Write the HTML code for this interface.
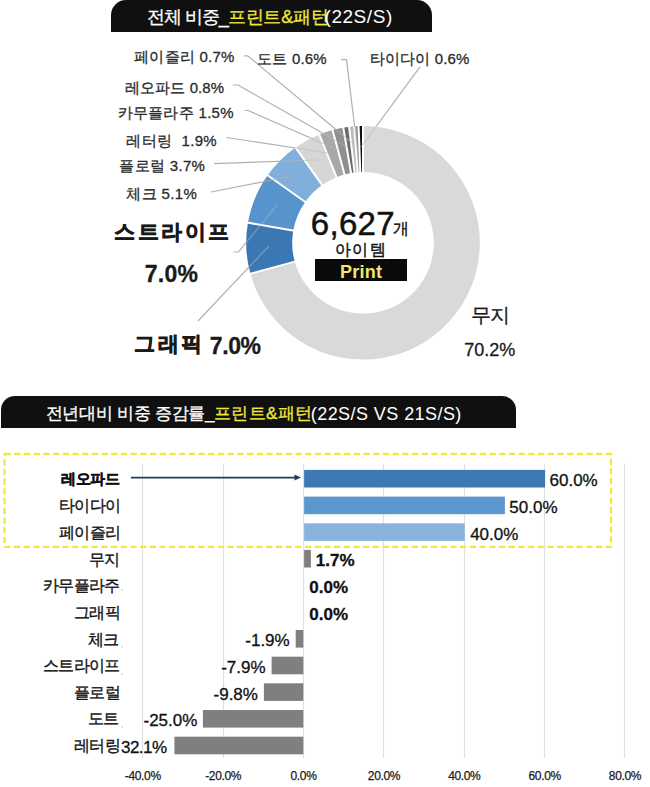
<!DOCTYPE html>
<html lang="ko"><head><meta charset="utf-8">
<style>
*{margin:0;padding:0;box-sizing:border-box}
html,body{width:650px;height:787px;background:#fff;overflow:hidden}
body{position:relative;font-family:"Liberation Sans",sans-serif;color:#262626}
.tx{position:absolute;white-space:nowrap;line-height:1.25}
.bx{position:absolute}
svg{position:absolute;left:0;top:0}
</style></head><body>
<div class="bx" style="left:110.8px;top:-0.5px;width:321.6px;height:32.2px;background:#101010;border-radius:15px 15px 0 0"></div>
<div class="bx" style="left:0.6px;top:396px;width:515.2px;height:31.7px;background:#101010;border-radius:14px 14px 0 0"></div>
<svg width="650" height="787" viewBox="0 0 650 787">
<g><path d="M363.00,126.00A116.8,116.8 0 1 1 250.39,273.82L294.74,261.60A70.8,70.8 0 1 0 363.00,172.00Z" fill="#d9d9d9"/><path d="M250.39,273.82A116.8,116.8 0 0 1 247.94,222.72L293.25,230.63A70.8,70.8 0 0 0 294.74,261.60Z" fill="#3b77b3"/><path d="M247.94,222.72A116.8,116.8 0 0 1 267.68,175.31L305.22,201.89A70.8,70.8 0 0 0 293.25,230.63Z" fill="#5793cc"/><path d="M267.68,175.31A116.8,116.8 0 0 1 295.54,147.45L322.11,185.00A70.8,70.8 0 0 0 305.22,201.89Z" fill="#80afdb"/><path d="M295.54,147.45A116.8,116.8 0 0 1 319.32,134.47L336.52,177.14A70.8,70.8 0 0 0 322.11,185.00Z" fill="#d6d6d6"/><path d="M319.32,134.47A116.8,116.8 0 0 1 332.53,130.04L344.53,174.45A70.8,70.8 0 0 0 336.52,177.14Z" fill="#a8a8a8"/><path d="M332.53,130.04A116.8,116.8 0 0 1 343.28,127.68L351.05,173.02A70.8,70.8 0 0 0 344.53,174.45Z" fill="#8f8f8f"/><path d="M343.28,127.68A116.8,116.8 0 0 1 349.09,126.83L354.57,172.50A70.8,70.8 0 0 0 351.05,173.02Z" fill="#6b6b6b"/><path d="M349.09,126.83A116.8,116.8 0 0 1 354.20,126.33L357.67,172.20A70.8,70.8 0 0 0 354.57,172.50Z" fill="#bcbcbc"/><path d="M354.20,126.33A116.8,116.8 0 0 1 358.60,126.08L360.33,172.05A70.8,70.8 0 0 0 357.67,172.20Z" fill="#979797"/><path d="M358.60,126.08A116.8,116.8 0 0 1 363.00,126.00L363.00,172.00A70.8,70.8 0 0 0 360.33,172.05Z" fill="#111111"/></g>
<g stroke="#fff" stroke-width="2"><line x1="295.71" y1="261.34" x2="249.43" y2="274.08"/><line x1="294.24" y1="230.80" x2="246.95" y2="222.55"/><line x1="306.03" y1="202.47" x2="266.86" y2="174.73"/><line x1="322.69" y1="185.82" x2="294.96" y2="146.64"/><line x1="336.90" y1="178.06" x2="318.95" y2="133.55"/><line x1="344.79" y1="175.42" x2="332.27" y2="129.08"/><line x1="351.22" y1="174.00" x2="343.11" y2="126.69"/><line x1="354.69" y1="173.50" x2="348.97" y2="125.84"/><line x1="357.74" y1="173.20" x2="354.13" y2="125.33"/><line x1="360.37" y1="173.05" x2="358.56" y2="125.08"/><line x1="363.00" y1="173.00" x2="363.00" y2="125.00"/></g>
<defs><mask id="mo"><rect width="650" height="400" fill="#fff"/><circle cx="363.0" cy="242.8" r="116.8" fill="#000"/></mask><clipPath id="ci"><circle cx="363.0" cy="242.8" r="116.8"/></clipPath></defs>
<g fill="none" stroke="#b0b0b0" stroke-width="1.2" mask="url(#mo)"><polyline points="244.2,55.8 247.8,55.8 352.0,143.0"/><polyline points="341.0,59.6 346.5,59.6 357.5,150.0"/><polyline points="420.0,66.8 361.0,147.0"/><polyline points="233.0,85.0 238.0,85.0 347.0,147.0"/><polyline points="244.6,110.5 248.0,110.5 338.0,150.0"/><polyline points="226.5,137.5 328.0,153.0"/><polyline points="214.0,163.6 318.0,160.0"/><polyline points="211.0,192.0 290.0,176.5"/><polyline points="233.5,252.0 238.5,252.0 277.0,205.0"/><polyline points="198.0,321.0 269.0,246.0"/></g>
<g fill="none" stroke="#b8b8b8" stroke-width="1.2" clip-path="url(#ci)" opacity="0.55"><polyline points="244.2,55.8 247.8,55.8 352.0,143.0"/><polyline points="341.0,59.6 346.5,59.6 357.5,150.0"/><polyline points="420.0,66.8 361.0,147.0"/><polyline points="233.0,85.0 238.0,85.0 347.0,147.0"/><polyline points="244.6,110.5 248.0,110.5 338.0,150.0"/><polyline points="226.5,137.5 328.0,153.0"/><polyline points="214.0,163.6 318.0,160.0"/><polyline points="211.0,192.0 290.0,176.5"/><polyline points="233.5,252.0 238.5,252.0 277.0,205.0"/><polyline points="198.0,321.0 269.0,246.0"/></g>
<g stroke="#e0e0e0" stroke-width="1.2"><line x1="142.5" y1="463.5" x2="142.5" y2="758"/><line x1="223.5" y1="463.5" x2="223.5" y2="758"/><line x1="303.5" y1="463.5" x2="303.5" y2="758"/><line x1="383.5" y1="463.5" x2="383.5" y2="758"/><line x1="464.5" y1="463.5" x2="464.5" y2="758"/><line x1="544.5" y1="463.5" x2="544.5" y2="758"/><line x1="624.5" y1="463.5" x2="624.5" y2="758"/></g>
<rect x="304.1" y="469.9" width="241.0" height="17.6" fill="#3d79b4"/><rect x="304.1" y="496.6" width="200.8" height="17.6" fill="#5b97cf"/><rect x="304.1" y="523.3" width="160.7" height="17.6" fill="#89b3dc"/><rect x="304.1" y="549.9" width="6.8" height="17.6" fill="#7f7f7f"/><rect x="295.7" y="630.0" width="7.6" height="17.6" fill="#7f7f7f"/><rect x="271.6" y="656.7" width="31.7" height="17.6" fill="#7f7f7f"/><rect x="263.9" y="683.3" width="39.4" height="17.6" fill="#7f7f7f"/><rect x="202.9" y="710.0" width="100.4" height="17.6" fill="#7f7f7f"/><rect x="174.4" y="736.7" width="128.9" height="17.6" fill="#7f7f7f"/>
<rect x="4.5" y="454" width="606.5" height="92.8" fill="none" stroke="#efea3e" stroke-width="2.3" stroke-dasharray="6.3,3.4"/>
<g fill="#c4c4c4"><circle cx="122" cy="590" r="0.8"/><circle cx="122" cy="647" r="0.8"/><circle cx="122" cy="674.3" r="0.8"/><circle cx="122.2" cy="727" r="0.8"/></g>
<line x1="130.9" y1="477.6" x2="296" y2="477.6" stroke="#1f3d5c" stroke-width="1.9"/>
<path d="M294.5,474.6 L301,477.6 L294.5,480.6 Z" fill="#1f3d5c"/>
</svg>
<div class="bx" style="left:315px;top:259px;width:92px;height:22px;background:#0a0a0a"></div>
<div class="tx" style="left:147.2px;top:5.8px;font-size:18px;color:#fff;-webkit-text-stroke:0.3px #fff;letter-spacing:-1.1px">전체 비중_</div>
<div class="tx" style="left:228.1px;top:5.8px;font-size:18px;color:#f1e83a;-webkit-text-stroke:0.3px #f1e83a;letter-spacing:-0.3px">프린트&amp;패턴</div>
<div class="tx" style="left:324.5px;top:4.95px;font-size:19px;color:#fff;letter-spacing:0.55px">(22S/S)</div>
<div class="tx" style="left:134.2px;top:48.3px;font-size:15px;color:#2b2b2b;-webkit-text-stroke:0.3px #2b2b2b;letter-spacing:0.23px">페이즐리 0.7%</div>
<div class="tx" style="left:257.3px;top:50.0px;font-size:15px;color:#2b2b2b;-webkit-text-stroke:0.3px #2b2b2b;letter-spacing:0.15px">도트 0.6%</div>
<div class="tx" style="left:370.0px;top:49.5px;font-size:15px;color:#2b2b2b;-webkit-text-stroke:0.3px #2b2b2b;letter-spacing:0.11px">타이다이 0.6%</div>
<div class="tx" style="left:125.2px;top:78.8px;font-size:15px;color:#2b2b2b;-webkit-text-stroke:0.3px #2b2b2b;letter-spacing:0.06px">레오파드 0.8%</div>
<div class="tx" style="left:117.6px;top:103.5px;font-size:15px;color:#2b2b2b;-webkit-text-stroke:0.3px #2b2b2b;letter-spacing:0.29px">카무플라주 1.5%</div>
<div class="tx" style="left:126.3px;top:131.6px;font-size:15px;color:#2b2b2b;-webkit-text-stroke:0.3px #2b2b2b;letter-spacing:0.36px">레터링&nbsp;&nbsp;1.9%</div>
<div class="tx" style="left:119.4px;top:156.6px;font-size:15px;color:#2b2b2b;-webkit-text-stroke:0.3px #2b2b2b;letter-spacing:0.31px">플로럴 3.7%</div>
<div class="tx" style="left:126.3px;top:184.6px;font-size:15px;color:#2b2b2b;-webkit-text-stroke:0.3px #2b2b2b;letter-spacing:0.37px">체크 5.1%</div>
<div class="tx" style="left:114.2px;top:219.25px;font-size:21px;font-weight:bold;-webkit-text-stroke:0.6px #1a1a1a;color:#1a1a1a;letter-spacing:2.45px">스트라이프</div>
<div class="tx" style="left:144.7px;top:259.6px;font-size:23px;font-weight:bold;color:#1a1a1a;-webkit-text-stroke:0.3px #1a1a1a;letter-spacing:0.27px">7.0%</div>
<div class="tx" style="left:134.4px;top:331.0px;font-size:21px;font-weight:bold;-webkit-text-stroke:0.6px #1a1a1a;color:#1a1a1a;letter-spacing:2.15px">그래픽</div>
<div class="tx" style="left:209.8px;top:332.25px;font-size:23px;font-weight:bold;color:#1a1a1a;-webkit-text-stroke:0.3px #1a1a1a;letter-spacing:-0.4px">7.0%</div>
<div class="tx" style="left:310.8px;top:202.8px;font-size:33px;color:#111;-webkit-text-stroke:0.5px #111;letter-spacing:0.3px">6,627</div>
<div class="tx" style="left:393.3px;top:219.0px;font-size:16px;color:#111;-webkit-text-stroke:0.35px #111;letter-spacing:0.0px">개</div>
<div class="tx" style="left:335.3px;top:239.6px;font-size:16px;color:#111;-webkit-text-stroke:0.4px #111;letter-spacing:1.2px">아이템</div>
<div class="tx" style="left:340.0px;top:261.0px;font-size:18px;font-weight:bold;color:#f3e66e;letter-spacing:0.25px">Print</div>
<div class="tx" style="left:471.2px;top:302.8px;font-size:20px;color:#1a1a1a;-webkit-text-stroke:0.3px #1a1a1a;letter-spacing:-0.7px">무지</div>
<div class="tx" style="left:464.2px;top:338.9px;font-size:18px;color:#1a1a1a;-webkit-text-stroke:0.3px #1a1a1a;letter-spacing:-0.02px">70.2%</div>
<div class="tx" style="left:45.7px;top:402.5px;font-size:17px;color:#fff;-webkit-text-stroke:0.3px #fff;letter-spacing:-0.28px">전년대비 비중 증감률_</div>
<div class="tx" style="left:213.5px;top:402.5px;font-size:17px;color:#f1e83a;-webkit-text-stroke:0.3px #f1e83a;letter-spacing:0.5px">프린트&amp;패턴</div>
<div class="tx" style="left:310.8px;top:402.55px;font-size:18px;color:#fff;letter-spacing:0.43px">(22S/S VS 21S/S)</div>
<div class="tx" style="left:61.4px;top:469.5px;font-size:15px;font-weight:bold;color:#111;-webkit-text-stroke:0.35px #111;letter-spacing:-0.6px">레오파드</div>
<div class="tx" style="left:549.5px;top:470.3px;font-size:17px;color:#111;-webkit-text-stroke:0.3px #111;letter-spacing:0.0px">60.0%</div>
<div class="tx" style="left:59.4px;top:496.28px;font-size:16px;color:#141414;-webkit-text-stroke:0.35px #141414;letter-spacing:-0.9px">타이다이</div>
<div class="tx" style="left:509.34px;top:496.98px;font-size:17px;color:#111;-webkit-text-stroke:0.3px #111;letter-spacing:0.0px">50.0%</div>
<div class="tx" style="left:59.4px;top:522.96px;font-size:16px;color:#141414;-webkit-text-stroke:0.35px #141414;letter-spacing:-0.9px">페이즐리</div>
<div class="tx" style="left:470.17px;top:523.66px;font-size:17px;color:#111;-webkit-text-stroke:0.3px #111;letter-spacing:0.0px">40.0%</div>
<div class="tx" style="left:89.4px;top:549.64px;font-size:16px;color:#141414;-webkit-text-stroke:0.35px #141414;letter-spacing:-0.9px">무지</div>
<div class="tx" style="left:315.83px;top:550.34px;font-size:17px;font-weight:bold;color:#111;-webkit-text-stroke:0.3px #111;letter-spacing:0.0px">1.7%</div>
<div class="tx" style="left:43.4px;top:576.32px;font-size:16px;color:#141414;-webkit-text-stroke:0.35px #141414;letter-spacing:-0.9px">카무플라주</div>
<div class="tx" style="left:309.3px;top:577.02px;font-size:17px;font-weight:bold;color:#111;-webkit-text-stroke:0.3px #111;letter-spacing:0.0px">0.0%</div>
<div class="tx" style="left:74.4px;top:603.0px;font-size:16px;color:#141414;-webkit-text-stroke:0.35px #141414;letter-spacing:-0.9px">그래픽</div>
<div class="tx" style="left:309.3px;top:603.7px;font-size:17px;font-weight:bold;color:#111;-webkit-text-stroke:0.3px #111;letter-spacing:0.0px">0.0%</div>
<div class="tx" style="left:88.4px;top:629.68px;font-size:16px;color:#141414;-webkit-text-stroke:0.35px #141414;letter-spacing:-0.9px">체크</div>
<div class="tx" style="left:245.27px;top:630.38px;font-size:17px;color:#111;-webkit-text-stroke:0.3px #111;letter-spacing:0.0px">-1.9%</div>
<div class="tx" style="left:43.4px;top:656.36px;font-size:16px;color:#141414;-webkit-text-stroke:0.35px #141414;letter-spacing:-0.9px">스트라이프</div>
<div class="tx" style="left:221.17px;top:657.06px;font-size:17px;color:#111;-webkit-text-stroke:0.3px #111;letter-spacing:0.0px">-7.9%</div>
<div class="tx" style="left:74.4px;top:683.04px;font-size:16px;color:#141414;-webkit-text-stroke:0.35px #141414;letter-spacing:-0.9px">플로럴</div>
<div class="tx" style="left:213.54px;top:683.74px;font-size:17px;color:#111;-webkit-text-stroke:0.3px #111;letter-spacing:0.0px">-9.8%</div>
<div class="tx" style="left:88.4px;top:708.72px;font-size:16px;color:#141414;-webkit-text-stroke:0.35px #141414;letter-spacing:-0.9px">도트</div>
<div class="tx" style="left:143.48px;top:710.42px;font-size:17px;color:#111;-webkit-text-stroke:0.3px #111;letter-spacing:0.0px">-25.0%</div>
<div class="tx" style="left:74.4px;top:736.4px;font-size:16px;color:#141414;-webkit-text-stroke:0.35px #141414;letter-spacing:-0.9px">레터링</div>
<div class="tx" style="left:120.96px;top:737.1px;font-size:17px;color:#111;-webkit-text-stroke:0.3px #111;letter-spacing:-0.5px">32.1%</div>
<div class="tx" style="left:124.83px;top:769.0px;font-size:12px;color:#1a1a1a;-webkit-text-stroke:0.25px #1a1a1a;letter-spacing:-0.35px">-40.0%</div>
<div class="tx" style="left:205.17px;top:769.0px;font-size:12px;color:#1a1a1a;-webkit-text-stroke:0.25px #1a1a1a;letter-spacing:-0.35px">-20.0%</div>
<div class="tx" style="left:290.5px;top:769.0px;font-size:12px;color:#1a1a1a;-webkit-text-stroke:0.25px #1a1a1a;letter-spacing:-0.35px">0.0%</div>
<div class="tx" style="left:367.83px;top:769.0px;font-size:12px;color:#1a1a1a;-webkit-text-stroke:0.25px #1a1a1a;letter-spacing:-0.35px">20.0%</div>
<div class="tx" style="left:448.17px;top:769.0px;font-size:12px;color:#1a1a1a;-webkit-text-stroke:0.25px #1a1a1a;letter-spacing:-0.35px">40.0%</div>
<div class="tx" style="left:528.5px;top:769.0px;font-size:12px;color:#1a1a1a;-webkit-text-stroke:0.25px #1a1a1a;letter-spacing:-0.35px">60.0%</div>
<div class="tx" style="left:608.84px;top:769.0px;font-size:12px;color:#1a1a1a;-webkit-text-stroke:0.25px #1a1a1a;letter-spacing:-0.35px">80.0%</div>
</body></html>
